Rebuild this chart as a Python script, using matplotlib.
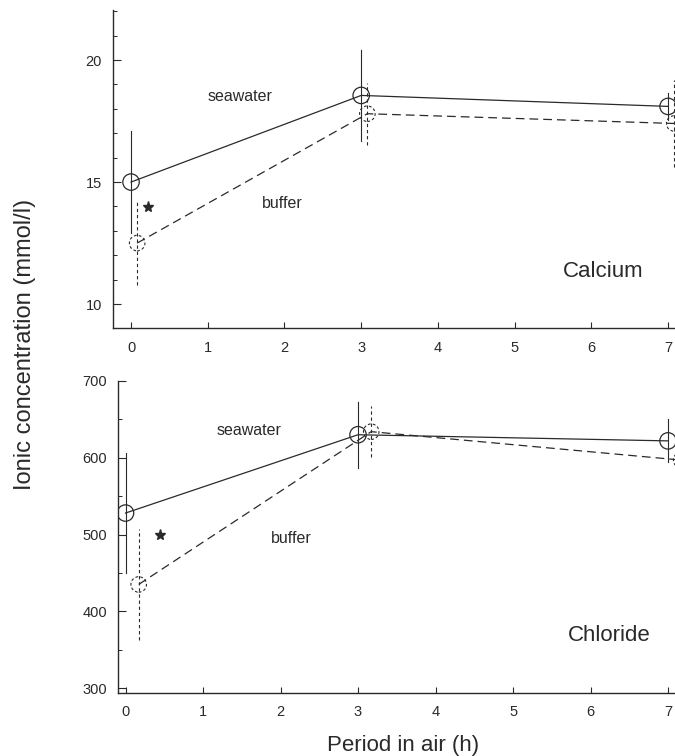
import matplotlib
matplotlib.use("Agg")
import matplotlib.pyplot as plt
from matplotlib.ticker import MultipleLocator
import numpy as np

plt.rcParams['font.family'] = ['Liberation Sans', 'DejaVu Sans']

# ---------------- data ----------------
hours = [0, 3, 7]
hour_ticks = [0, 1, 2, 3, 4, 5, 6, 7]

ca_seawater = [15.0, 18.55, 18.1]
ca_seawater_sd = [2.1, 1.85, 0.55]
ca_buffer = [12.5, 17.8, 17.4]
ca_buffer_sd = [1.7, 1.27, 1.8]

cl_seawater = [528, 630, 622]
cl_seawater_sd = [78, 43, 28]
cl_buffer = [435, 634, 597]
cl_buffer_sd = [72, 33, 12]

ca_yticks = [10, 15, 20]
cl_yticks = [300, 400, 500, 600, 700]

# ---------------- style ----------------
INK = '#2a2a2a'
W, H = 675, 756
fig = plt.figure(figsize=(W / 100, H / 100), dpi=100)


def px_axes(left, top, right, bottom):
    return fig.add_axes([left / W, 1 - bottom / H, (right - left) / W, (bottom - top) / H])


def draw_panel(ax, sw, sw_sd, bf, bf_sd, sw_off, bf_off, xlim, ylim, yticks, yminor,
               star_xy, sw_lab, bf_lab, title, title_xy):
    xs_sw = np.array(hours) + sw_off
    xs_bf = np.array(hours) + bf_off
    # error bars
    for x, y, e in zip(xs_sw, sw, sw_sd):
        ax.plot([x, x], [y - e, y + e], color=INK, lw=0.8, zorder=2)
    for x, y, e in zip(xs_bf, bf, bf_sd):
        ax.plot([x, x], [y - e, y + e], color=INK, lw=0.8, ls=(0, (3, 2.5)), zorder=2)
    # lines
    ax.plot(xs_sw, sw, color=INK, lw=0.9, zorder=3)
    ax.plot(xs_bf, bf, color=INK, lw=0.9, ls=(0, (7, 4)), zorder=3)
    # markers
    ax.scatter(xs_sw, sw, s=140, facecolors='none', edgecolors=INK, linewidths=0.9, zorder=4)
    ax.scatter(xs_bf, bf, s=125, facecolors='none', edgecolors=INK, linewidths=0.8,
               linestyles=(0, (2.5, 2)), zorder=4)
    ax.plot([star_xy[0]], [star_xy[1]], marker='*', ms=8, color=INK, ls='none', zorder=5)
    ax.text(sw_lab[0], sw_lab[1], 'seawater', fontsize=11.5, ha='center', va='center', color=INK)
    ax.text(bf_lab[0], bf_lab[1], 'buffer', fontsize=11.5, ha='center', va='center', color=INK)
    ax.text(title_xy[0], title_xy[1], title, fontsize=16, ha='center', va='center', color=INK)

    ax.set_xlim(*xlim)
    ax.set_ylim(*ylim)
    ax.set_xticks(hour_ticks)
    ax.set_xticklabels([str(t) for t in hour_ticks])
    ax.set_yticks(yticks)
    ax.set_yticklabels([str(t) for t in yticks])
    ax.yaxis.set_minor_locator(MultipleLocator(yminor))
    for s in ('top', 'right'):
        ax.spines[s].set_visible(False)
    for s in ('left', 'bottom'):
        ax.spines[s].set_color(INK)
        ax.spines[s].set_linewidth(1.0)
    ax.tick_params(axis='x', direction='in', length=4, width=0.8, colors=INK,
                   labelsize=10.5, pad=9)
    ax.tick_params(axis='y', which='major', direction='in', length=6, width=0.8,
                   colors=INK, labelsize=10.5, pad=8)
    ax.tick_params(axis='y', which='minor', direction='in', length=3, width=0.7, colors=INK)
    ax.patch.set_alpha(0)


ax1 = px_axes(113, 10, 675, 328)
draw_panel(ax1, ca_seawater, ca_seawater_sd, ca_buffer, ca_buffer_sd,
           0.0, 0.08, (-0.235, 7.09), (9.02, 22.05), ca_yticks, 1,
           (0.22, 13.97), (1.42, 18.5), (1.97, 14.13), 'Calcium', (6.15, 11.32))

ax2 = px_axes(118, 381, 675, 693)
draw_panel(ax2, cl_seawater, cl_seawater_sd, cl_buffer, cl_buffer_sd,
           0.0, 0.17, (-0.097, 7.09), (293.6, 700), cl_yticks, 50,
           (0.45, 500), (1.59, 635), (2.14, 495), 'Chloride', (6.24, 369))

fig.text(25 / W, 1 - 344 / H, 'Ionic concentration (mmol/l)', rotation=90,
         ha='center', va='center', fontsize=17, color=INK)
fig.text(403 / W, 1 - 745 / H, 'Period in air (h)', ha='center', va='center',
         fontsize=16, color=INK)

fig.savefig('out.png', dpi=100, facecolor='white')
